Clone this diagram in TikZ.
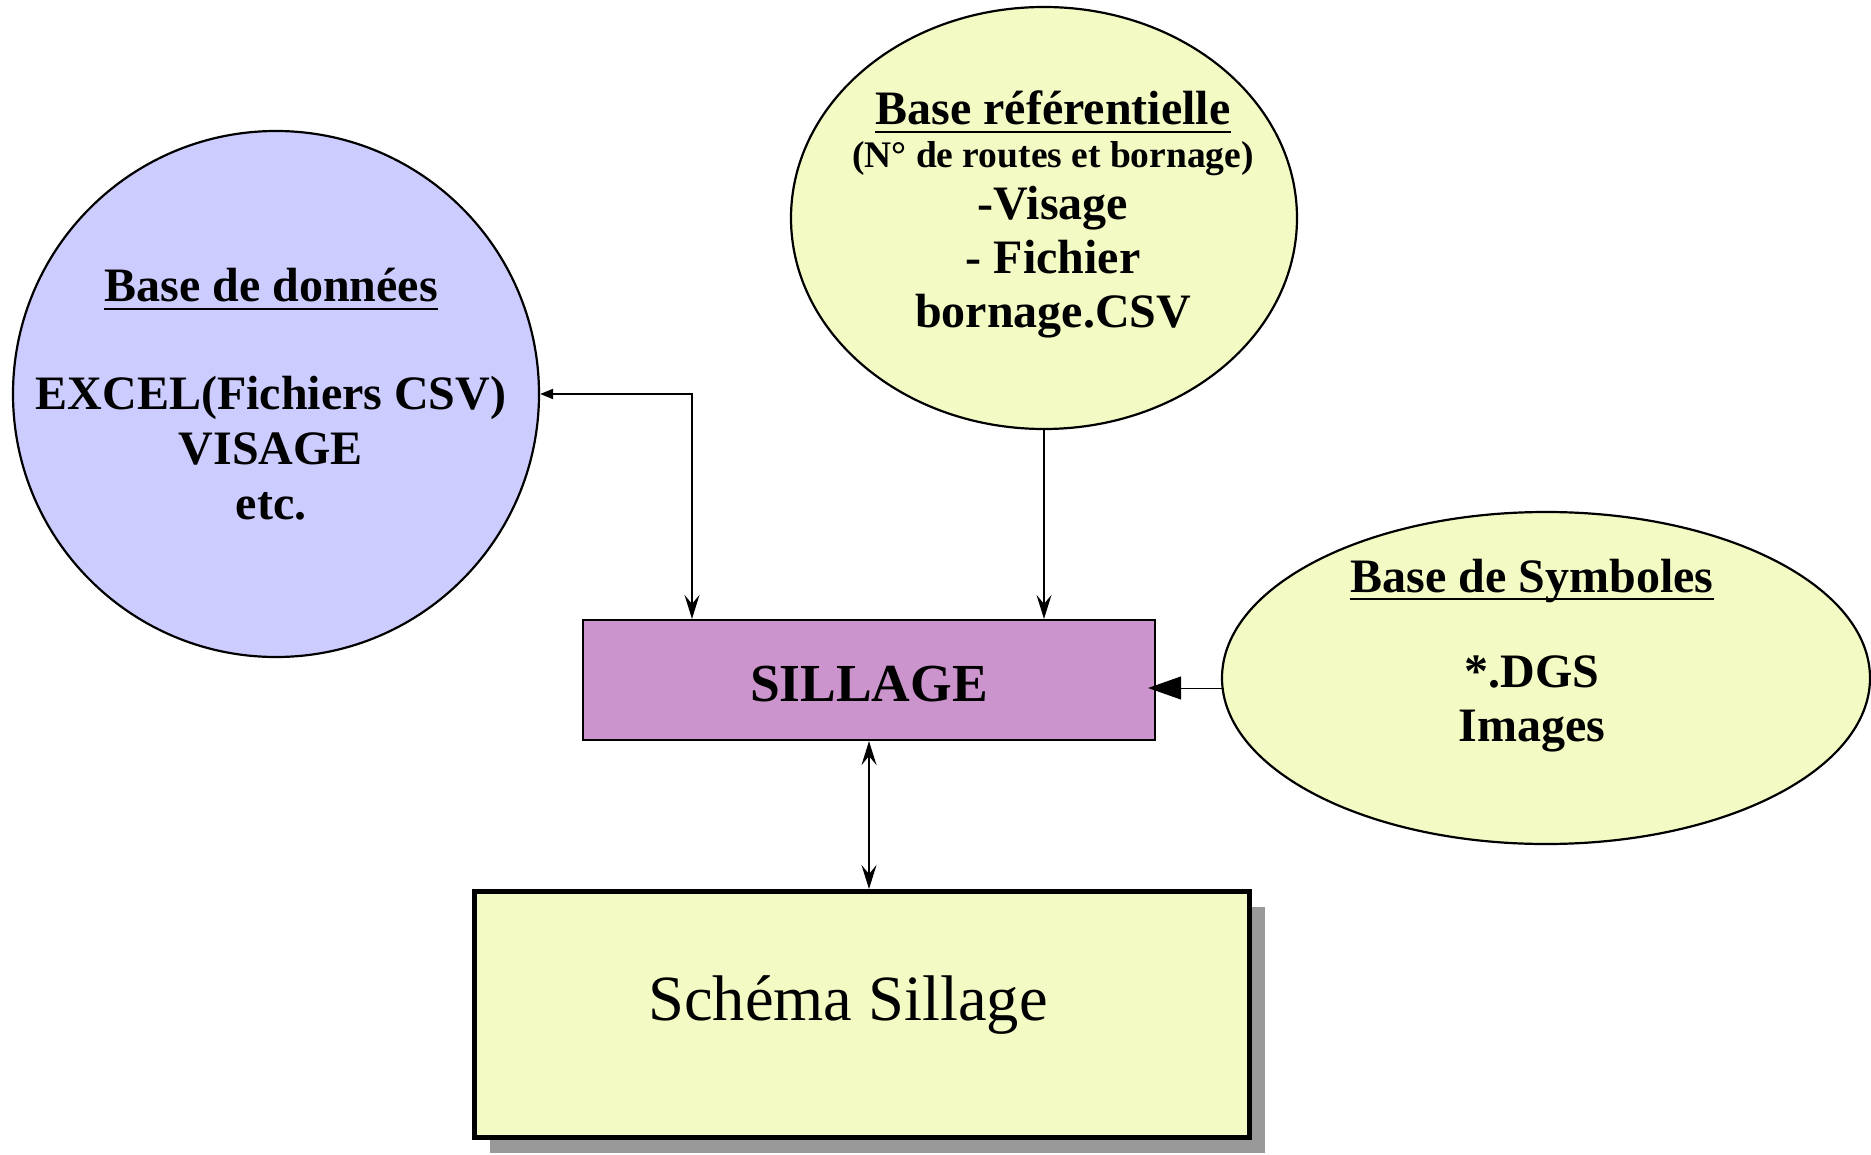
\documentclass[tikz,border=0pt]{standalone}
\usepackage{fontspec}
\setmainfont{Liberation Serif}
\usetikzlibrary{shapes.geometric,arrows.meta,shadows,calc}
\definecolor{lav}{RGB}{204,204,255}
\definecolor{pale}{RGB}{243,250,196}
\definecolor{mauve}{RGB}{204,148,204}
\definecolor{shad}{RGB}{153,153,153}
\tikzset{
  stl/.tip={Stealth[length=24pt,width=15pt,inset=9pt]},
  tri/.tip={Triangle[length=13pt,width=10pt]},
  bigtri/.tip={Triangle[length=33pt,width=23pt]}
}
\begin{document}
\begin{tikzpicture}[x=1pt,y=-1pt,
  big/.style={inner sep=0pt, anchor=base, font=\fontsize{48}{52}\selectfont\bfseries},
  small/.style={inner sep=0pt, anchor=base, font=\fontsize{37.5}{42}\selectfont\bfseries},
  uline/.style={line width=2.5pt},
  conn/.style={line width=2pt}]
\useasboundingbox (0,0) rectangle (1871,1155);
% shapes
\node[circle, draw, line width=2.2pt, fill=lav, minimum size=526pt, inner sep=0pt] (db) at (276,394) {};
\node[ellipse, draw, line width=2.2pt, fill=pale, minimum width=506pt, minimum height=422pt, inner sep=0pt] (ref) at (1044,218) {};
\node[ellipse, draw, line width=2.2pt, fill=pale, minimum width=648pt, minimum height=332pt, inner sep=0pt] (sym) at (1546,678) {};
\node[rectangle, draw, line width=2.2pt, fill=mauve, minimum width=572pt, minimum height=120pt, inner sep=0pt] (sill) at (869,680) {};
\node[rectangle, draw, line width=5pt, fill=pale, minimum width=775pt, minimum height=246pt, inner sep=0pt,
  drop shadow={shadow xshift=15pt, shadow yshift=-15pt, fill=shad, opacity=1}] (sch) at (862,1014.5) {};
% texts: Base de donnees
\node[big] (db1) at (271,302) {Base de données};
\draw[uline] ([yshift=-7pt]db1.base west) -- ([yshift=-7pt]db1.base east);
\node[big] (db2) at (271,409) {EXCEL(Fichiers CSV)};
\node[big] (db3) at (271,464) {VISAGE};
\node[big] (db4) at (271,519) {etc.};
% Base referentielle
\node[big] (r1) at (1053,125) {Base référentielle};
\draw[uline] ([yshift=-7pt]r1.base west) -- ([yshift=-7pt]r1.base east);
\node[small] (r2) at (1053,168) {(N° de routes et bornage)};
\node[big] (r3) at (1053,220) {-Visage};
\node[big] (r4) at (1053,274) {- Fichier};
\node[big] (r5) at (1053,328) {bornage.CSV};
% Base de symboles
\node[big] (s1) at (1532,592) {Base de Symboles};
\draw[uline] ([yshift=-7pt]s1.base west) -- ([yshift=-7pt]s1.base east);
\node[big] (s2) at (1532,687) {*.DGS};
\node[big] (s3) at (1532,741) {Images};
% SILLAGE
\node[inner sep=0pt, anchor=base, font=\fontsize{53.5}{58}\selectfont\bfseries] (st) at (869,701) {SILLAGE};
% Schema
\node[inner sep=0pt, anchor=base, font=\fontsize{64.5}{70}\selectfont] (sct) at (848,1020) {Schéma Sillage};
% connectors
\coordinate (c1) at (692,394);
\draw[conn, tri-stl] (db.east) -- (c1) -- (c1 |- sill.north);
\draw[conn, -stl] (ref.south) -- (ref.south |- sill.north);
\coordinate (sw) at ($(sym.west)+(1,10)$);
\draw[line width=1pt, -bigtri, shorten >=-8pt] (sw) -- (sw -| sill.east);
\draw[conn, stl-stl] (sill.south) -- (sill.south |- sch.north);
\end{tikzpicture}
\end{document}
